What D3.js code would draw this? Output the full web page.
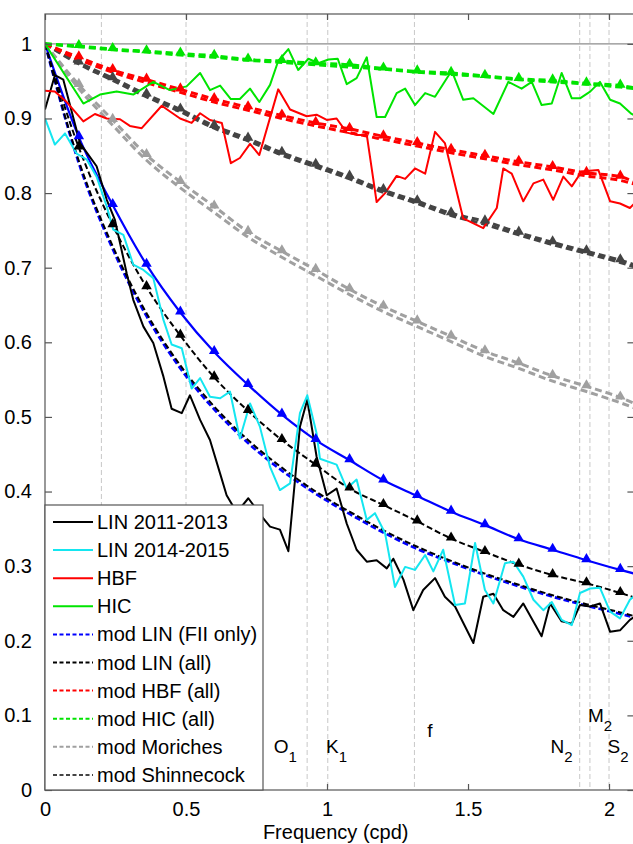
<!DOCTYPE html>
<html>
<head>
<meta charset="utf-8">
<script src="https://cdn.jsdelivr.net/npm/d3@7/dist/d3.min.js"></script>
<style>
    html, body { margin: 0; padding: 0; background: #fff; }
    svg { display: block; font-family: "Liberation Sans", Arial, sans-serif; }
</style>
</head>
<body>
<div class="chart"></div>
<script>
// observed spectra ratio, [frequency (cpd), value]
var obsLin1 = [[0,0.912],[0.035,0.958],[0.065,0.952],[0.124,0.867],[0.183,0.836],[0.219,0.791],[0.248,0.764],[0.290,0.692],[0.313,0.657],[0.349,0.621],[0.384,0.599],[0.420,0.554],[0.449,0.511],[0.485,0.505],[0.514,0.529],[0.550,0.496],[0.585,0.469],[0.621,0.424],[0.644,0.395],[0.680,0.372],[0.721,0.391],[0.774,0.364],[0.798,0.353],[0.833,0.349],[0.863,0.320],[0.904,0.487],[0.930,0.523],[0.963,0.447],[0.999,0.395],[1.034,0.404],[1.070,0.357],[1.105,0.322],[1.141,0.306],[1.176,0.308],[1.212,0.297],[1.235,0.310],[1.271,0.282],[1.306,0.241],[1.341,0.268],[1.383,0.284],[1.418,0.259],[1.454,0.246],[1.519,0.197],[1.554,0.259],[1.590,0.263],[1.625,0.241],[1.661,0.232],[1.696,0.250],[1.761,0.206],[1.791,0.250],[1.832,0.226],[1.868,0.223],[1.897,0.248],[1.933,0.246],[1.968,0.250],[2.004,0.212],[2.039,0.214],[2.074,0.228],[2.09,0.232]];
var obsLin2 = [[0,0.900],[0.035,0.865],[0.071,0.880],[0.112,0.853],[0.148,0.845],[0.183,0.822],[0.219,0.782],[0.242,0.751],[0.278,0.744],[0.313,0.704],[0.349,0.697],[0.384,0.686],[0.420,0.630],[0.449,0.597],[0.485,0.592],[0.520,0.538],[0.550,0.552],[0.585,0.527],[0.621,0.525],[0.656,0.534],[0.691,0.471],[0.727,0.518],[0.762,0.487],[0.798,0.433],[0.833,0.402],[0.869,0.411],[0.904,0.505],[0.930,0.529],[0.963,0.478],[0.975,0.444],[1.034,0.436],[1.070,0.404],[1.105,0.416],[1.141,0.362],[1.170,0.371],[1.206,0.344],[1.241,0.272],[1.277,0.299],[1.312,0.295],[1.348,0.315],[1.377,0.293],[1.412,0.322],[1.454,0.248],[1.489,0.250],[1.525,0.331],[1.560,0.268],[1.590,0.250],[1.631,0.304],[1.661,0.306],[1.696,0.286],[1.732,0.255],[1.767,0.241],[1.797,0.252],[1.832,0.228],[1.868,0.221],[1.897,0.264],[1.933,0.270],[1.968,0.271],[2.004,0.239],[2.039,0.230],[2.074,0.255],[2.09,0.260]];
var obsHbf = [[0,0.937],[0.035,0.936],[0.077,0.922],[0.136,0.896],[0.177,0.906],[0.219,0.900],[0.266,0.899],[0.301,0.890],[0.343,0.887],[0.414,0.917],[0.479,0.900],[0.520,0.894],[0.550,0.907],[0.585,0.898],[0.627,0.894],[0.659,0.840],[0.691,0.847],[0.727,0.866],[0.760,0.851],[0.827,0.939],[0.869,0.912],[0.928,0.903],[0.963,0.905],[0.999,0.898],[1.034,0.900],[1.070,0.881],[1.105,0.878],[1.141,0.878],[1.176,0.788],[1.206,0.800],[1.247,0.823],[1.277,0.819],[1.312,0.833],[1.348,0.826],[1.383,0.882],[1.418,0.867],[1.483,0.766],[1.554,0.753],[1.602,0.780],[1.625,0.833],[1.655,0.826],[1.696,0.789],[1.732,0.813],[1.767,0.818],[1.802,0.791],[1.838,0.822],[1.868,0.809],[1.903,0.829],[1.962,0.831],[2.004,0.789],[2.039,0.786],[2.074,0.780],[2.09,0.786]];
var obsHic = [[0,1.0],[0.136,0.920],[0.195,0.932],[0.254,0.936],[0.313,0.932],[0.384,0.949],[0.443,0.938],[0.502,0.943],[0.550,0.961],[0.585,0.938],[0.621,0.944],[0.659,0.926],[0.691,0.926],[0.727,0.940],[0.760,0.922],[0.798,0.945],[0.827,0.977],[0.863,0.993],[0.898,0.965],[0.934,0.980],[0.969,0.974],[1.005,0.979],[1.038,0.980],[1.070,0.946],[1.105,0.954],[1.141,0.982],[1.176,0.902],[1.206,0.902],[1.247,0.934],[1.277,0.940],[1.312,0.918],[1.348,0.934],[1.383,0.929],[1.442,0.964],[1.483,0.925],[1.519,0.927],[1.590,0.906],[1.643,0.949],[1.690,0.940],[1.726,0.949],[1.761,0.918],[1.797,0.920],[1.832,0.961],[1.868,0.927],[1.897,0.927],[1.933,0.936],[1.968,0.949],[2.004,0.925],[2.039,0.920],[2.080,0.906],[2.09,0.904]];

// model curves on a common frequency grid
var modelFreq = [0, 0.12, 0.24, 0.36, 0.48, 0.60, 0.72, 0.84, 0.96, 1.08, 1.20, 1.32, 1.44, 1.56, 1.68, 1.80, 1.92, 2.04, 2.09];
var modLinFii  = [1, 0.840, 0.725, 0.635, 0.565, 0.510, 0.465, 0.428, 0.397, 0.370, 0.345, 0.323, 0.305, 0.288, 0.273, 0.259, 0.247, 0.236, 0.231];
var modLinAll  = [1, 0.843, 0.729, 0.639, 0.569, 0.514, 0.469, 0.432, 0.400, 0.373, 0.348, 0.326, 0.307, 0.290, 0.275, 0.261, 0.249, 0.238, 0.233];
var modHbf     = [1, 0.979, 0.962, 0.948, 0.935, 0.922, 0.911, 0.900, 0.890, 0.881, 0.872, 0.863, 0.854, 0.846, 0.838, 0.831, 0.823, 0.817, 0.812];
var modHic     = [1, 0.996, 0.992, 0.989, 0.985, 0.982, 0.978, 0.975, 0.972, 0.969, 0.966, 0.962, 0.959, 0.956, 0.952, 0.949, 0.946, 0.942, 0.940];
var modMor     = [1, 0.940, 0.891, 0.844, 0.807, 0.774, 0.741, 0.714, 0.689, 0.664, 0.641, 0.621, 0.601, 0.581, 0.565, 0.548, 0.534, 0.519, 0.512];
var modShin    = [1, 0.973, 0.951, 0.929, 0.909, 0.887, 0.870, 0.851, 0.835, 0.819, 0.801, 0.786, 0.770, 0.758, 0.744, 0.731, 0.719, 0.707, 0.701];
// model variants drawn with triangle markers
var mkLinFii   = [1, 0.875, 0.784, 0.704, 0.640, 0.587, 0.543, 0.503, 0.469, 0.442, 0.415, 0.394, 0.373, 0.355, 0.336, 0.322, 0.308, 0.295, 0.290];
var mkLinAll   = [1, 0.861, 0.757, 0.674, 0.609, 0.553, 0.508, 0.469, 0.436, 0.404, 0.382, 0.360, 0.337, 0.319, 0.302, 0.288, 0.277, 0.264, 0.258];
var mkHbf      = [1, 0.982, 0.965, 0.952, 0.939, 0.926, 0.915, 0.904, 0.894, 0.886, 0.876, 0.867, 0.858, 0.850, 0.842, 0.835, 0.827, 0.822, 0.815];
var mkHic      = [1, 0.997, 0.993, 0.990, 0.987, 0.984, 0.979, 0.977, 0.974, 0.972, 0.967, 0.963, 0.961, 0.957, 0.953, 0.951, 0.947, 0.944, 0.941];
var mkMor      = [1, 0.945, 0.898, 0.851, 0.815, 0.782, 0.748, 0.722, 0.697, 0.671, 0.648, 0.628, 0.608, 0.588, 0.572, 0.555, 0.541, 0.526, 0.518];
var mkShin     = [1, 0.975, 0.954, 0.932, 0.912, 0.890, 0.873, 0.854, 0.838, 0.822, 0.804, 0.789, 0.773, 0.762, 0.747, 0.734, 0.722, 0.710, 0.704];

// tidal constituents / inertial frequency
var constFreq = [0.2, 0.5, 0.9295, 1.0027, 1.31, 1.8960, 1.9323, 2.0];
var constLabels = [
    { name: 'O', sub: '1', f: 0.852, v: 0.050 },
    { name: 'K', sub: '1', f: 1.034, v: 0.050 },
    { name: 'f', sub: '',  f: 1.365, v: 0.071 },
    { name: 'N', sub: '2', f: 1.832, v: 0.050 },
    { name: 'M', sub: '2', f: 1.968, v: 0.091 },
    { name: 'S', sub: '2', f: 2.032, v: 0.050 }
];

var xTicks = [0, 0.5, 1, 1.5, 2];
var yTicks = [0, 0.1, 0.2, 0.3, 0.4, 0.5, 0.6, 0.7, 0.8, 0.9, 1];
var legendLabels = ['LIN 2011-2013', 'LIN 2014-2015', 'HBF', 'HIC', 'mod LIN (FII only)', 'mod LIN (all)', 'mod HBF (all)', 'mod HIC (all)', 'mod Moriches', 'mod Shinnecock'];

draw();

function draw() {
    var width = 633, height = 844;
    var left = 45, right = 634.4, top = 14, bottom = 790;
    var font = 20;

    var x = d3.scaleLinear().domain([0, 2.09]).range([left, right]);
    var y = d3.scaleLinear().domain([0, 1.04]).range([bottom, top]);

    var svg = d3.select('.chart')
        .append('svg')
        .attr('width', width)
        .attr('height', height);

    svg.append('defs').append('clipPath')
        .attr('id', 'plot-clip')
        .append('rect')
        .attr('x', left).attr('y', top)
        .attr('width', right - left).attr('height', bottom - top);

    // constituent lines
    svg.append('g')
        .selectAll('line')
        .data(constFreq)
        .enter()
        .append('line')
        .attr('x1', function (d) { return x(d); })
        .attr('x2', function (d) { return x(d); })
        .attr('y1', top)
        .attr('y2', bottom)
        .attr('stroke', '#c8c8c8')
        .attr('stroke-width', 1)
        .attr('stroke-dasharray', '5,3');

    // reference line at 1
    svg.append('line')
        .attr('x1', left).attr('x2', right)
        .attr('y1', y(1)).attr('y2', y(1))
        .attr('stroke', '#8c8c8c')
        .attr('stroke-width', 1.2);

    var plot = svg.append('g').attr('clip-path', 'url(#plot-clip)');

    var pairLine = d3.line()
        .x(function (d) { return x(d[0]); })
        .y(function (d) { return y(d[1]); });

    var modelLine = d3.line()
        .curve(d3.curveMonotoneX)
        .x(function (d, i) { return x(modelFreq[i]); })
        .y(function (d) { return y(d); });

    var observed = [
        { data: obsLin1, color: '#000000' },
        { data: obsLin2, color: '#14e6f0' },
        { data: obsHbf, color: '#ff0000' },
        { data: obsHic, color: '#00e400' }
    ];

    var models = [
        { data: mkShin, color: '#444444', width: 3, dash: '7,4', marker: true },
        { data: modShin, color: '#444444', width: 3, dash: '7,4' },
        { data: mkMor, color: '#a0a0a0', width: 3, dash: '7,4', marker: true },
        { data: modMor, color: '#a0a0a0', width: 3, dash: '7,4' },
        { data: mkHbf, color: '#ff0000', width: 3, dash: '7,4', marker: true },
        { data: modHbf, color: '#ff0000', width: 3, dash: '7,4' },
        { data: mkHic, color: '#00e400', width: 3, dash: '7,4', marker: true },
        { data: modHic, color: '#00e400', width: 3, dash: '7,4' },
        { data: modLinFii, color: '#0000ff', width: 2.6, dash: '6,3' },
        { data: modLinAll, color: '#000000', width: 2, dash: '6,3' },
        { data: mkLinFii, color: '#0000ff', width: 2.2, dash: null, marker: true },
        { data: mkLinAll, color: '#000000', width: 2, dash: '6,3', marker: true }
    ];

    plot.selectAll('path.model')
        .data(models)
        .enter()
        .append('path')
        .attr('class', 'model')
        .attr('d', function (d) { return modelLine(d.data); })
        .attr('fill', 'none')
        .attr('stroke', function (d) { return d.color; })
        .attr('stroke-width', function (d) { return d.width; })
        .attr('stroke-dasharray', function (d) { return d.dash; });

    plot.selectAll('path.obs')
        .data(observed)
        .enter()
        .append('path')
        .attr('class', 'obs')
        .attr('d', function (d) { return pairLine(d.data); })
        .attr('fill', 'none')
        .attr('stroke', function (d) { return d.color; })
        .attr('stroke-width', 2)
        .attr('stroke-linejoin', 'round');

    // triangle markers
    var tri = d3.symbol().type(d3.symbolTriangle).size(48);
    models.filter(function (m) { return m.marker; }).forEach(function (m) {
        var pts = m.data.map(function (v, i) { return [modelFreq[i], v]; })
            .filter(function (p) { return p[0] > 0 && p[0] < 2.08; });
        plot.append('g')
            .selectAll('path')
            .data(pts)
            .enter()
            .append('path')
            .attr('d', tri)
            .attr('transform', function (p) { return 'translate(' + x(p[0]) + ',' + (y(p[1]) - 1) + ')'; })
            .attr('fill', m.color);
    });

    // axes box
    var axisColor = '#555';
    svg.append('rect')
        .attr('x', left).attr('y', top)
        .attr('width', right - left).attr('height', bottom - top)
        .attr('fill', 'none')
        .attr('stroke', axisColor)
        .attr('stroke-width', 1.2);

    var xBottom = d3.axisBottom(x).tickValues(xTicks).tickSizeInner(-6).tickSizeOuter(0).tickPadding(12)
        .tickFormat(function (d) { return d3.format('')(d); });
    var gx = svg.append('g').attr('transform', 'translate(0,' + bottom + ')').call(xBottom);
    var gxTop = svg.append('g').attr('transform', 'translate(0,' + top + ')')
        .call(d3.axisTop(x).tickValues(xTicks).tickSizeInner(-6).tickSizeOuter(0).tickFormat(''));
    var yLeft = d3.axisLeft(y).tickValues(yTicks).tickSizeInner(-7).tickSizeOuter(0).tickPadding(13)
        .tickFormat(function (d) { return d3.format('')(d); });
    var gy = svg.append('g').attr('transform', 'translate(' + left + ',0)').call(yLeft);
    var gyRight = svg.append('g').attr('transform', 'translate(' + right + ',0)')
        .call(d3.axisRight(y).tickValues(yTicks).tickSizeInner(-7).tickSizeOuter(0).tickFormat(''));

    [gx, gxTop, gy, gyRight].forEach(function (g) {
        g.select('.domain').remove();
        g.selectAll('line').attr('stroke', axisColor).attr('stroke-width', 1.2);
        g.selectAll('text')
            .attr('fill', '#000')
            .style('font-family', '"Liberation Sans", Arial, sans-serif')
            .style('font-size', font + 'px');
    });

    svg.append('text')
        .attr('x', (left + right) / 2 - 4)
        .attr('y', 839)
        .attr('text-anchor', 'middle')
        .style('font-size', font + 'px')
        .text('Frequency (cpd)');

    // constituent labels
    var lab = svg.append('g')
        .selectAll('text')
        .data(constLabels)
        .enter()
        .append('text')
        .attr('x', function (d) { return x(d.f); })
        .attr('y', function (d) { return y(d.v); })
        .attr('text-anchor', 'middle')
        .style('font-size', '19px');
    lab.append('tspan').text(function (d) { return d.name; });
    lab.append('tspan')
        .attr('dy', 9)
        .style('font-size', '15px')
        .text(function (d) { return d.sub; });

    // legend
    var legendColors = ['#000000', '#14e6f0', '#ff0000', '#00e400', '#0000ff', '#000000', '#ff0000', '#00e400', '#a0a0a0', '#444444'];
    var lg = svg.append('g');
    lg.append('rect')
        .attr('x', left).attr('y', 505)
        .attr('width', 218).attr('height', bottom - 505)
        .attr('fill', '#fff')
        .attr('stroke', axisColor)
        .attr('stroke-width', 1.2);

    var rows = lg.selectAll('g.row')
        .data(legendLabels)
        .enter()
        .append('g')
        .attr('class', 'row')
        .attr('transform', function (d, i) { return 'translate(0,' + (522 + i * 28.1) + ')'; });

    rows.append('line')
        .attr('x1', 53).attr('x2', 93)
        .attr('y1', 0).attr('y2', 0)
        .attr('stroke', function (d, i) { return legendColors[i]; })
        .attr('stroke-width', 2)
        .attr('stroke-dasharray', function (d, i) { return i < 4 ? null : '4,2.5'; });

    rows.append('text')
        .attr('x', 97)
        .attr('y', 7)
        .style('font-size', font + 'px')
        .text(function (d) { return d; });
}
</script>
</body>
</html>
